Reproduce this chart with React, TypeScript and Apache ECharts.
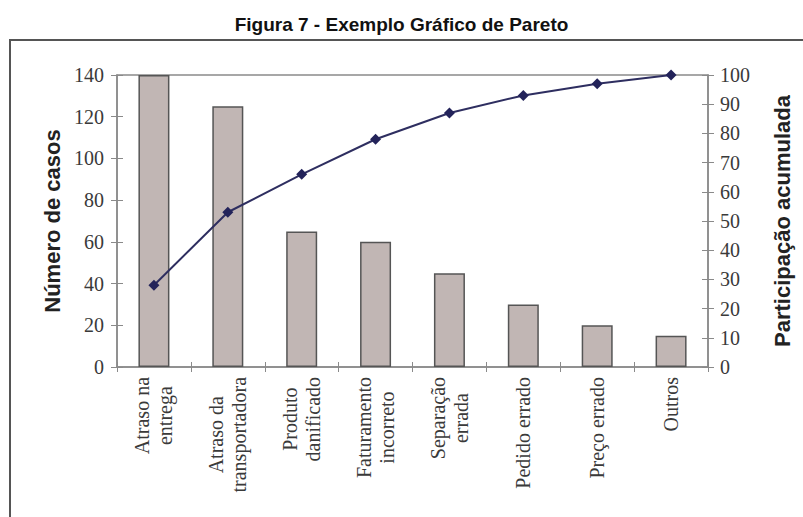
import React, { useEffect, useRef } from "react";
import * as echarts from "echarts";

const categories = [
  "Atraso na\nentrega",
  "Atraso da\ntransportadora",
  "Produto\ndanificado",
  "Faturamento\nincorreto",
  "Separação\nerrada",
  "Pedido errado",
  "Preço errado",
  "Outros",
];
const casos = [140, 125, 65, 60, 45, 30, 20, 15];
const acumulada = [28, 53, 66, 78, 87, 93, 97, 100];

const SERIF = "'Liberation Serif', 'Times New Roman', serif";
const SANS = "'Liberation Sans', Arial, sans-serif";
const AXIS_GREY = "#8a8a8a";

export default function App() {
  const ref = useRef<HTMLDivElement>(null);
  useEffect(() => {
    if (!ref.current) return;
    const chart = echarts.init(ref.current, undefined, { renderer: "svg" });
    const tickLabel = { fontFamily: SERIF, fontSize: 20, color: "#3a3a3a" };
    chart.setOption({
      animation: false,
      backgroundColor: "#ffffff",
      title: {
        text: "Figura 7 - Exemplo Gráfico de Pareto",
        left: "center",
        top: 10,
        textStyle: { fontFamily: SANS, fontSize: 19, fontWeight: "bold", color: "#111" },
      },
      graphic: [
        {
          type: "polyline",
          shape: { points: [[10, 520], [10, 40], [810, 40]] },
          style: { stroke: "#555", lineWidth: 2, fill: "none" },
          silent: true,
        },
      ],
      grid: {
        left: 117,
        right: 95,
        top: 75,
        bottom: 150,
        show: true,
        borderColor: AXIS_GREY,
        borderWidth: 1.5,
        backgroundColor: "transparent",
      },
      xAxis: [
        {
          type: "category",
          data: categories,
          boundaryGap: true,
          axisLine: { lineStyle: { color: AXIS_GREY, width: 1.5 } },
          axisTick: { show: true, length: 5, interval: 0, lineStyle: { color: AXIS_GREY } },
          axisLabel: {
            interval: 0,
            rotate: 90,
            margin: 10,
            formatter: (v: string) => v.split("\n").map((s) => `{c|${s}}`).join("\n"),
            rich: {
              c: { fontFamily: SERIF, fontSize: 20, lineHeight: 23, color: "#3a3a3a", align: "center" },
            },
          },
        },
        {
          type: "category",
          data: categories,
          position: "bottom",
          axisLine: { show: false },
          axisTick: { show: true, inside: true, length: 5, interval: 0, lineStyle: { color: AXIS_GREY } },
          axisLabel: { show: false },
        },
      ],
      yAxis: [
        {
          type: "value",
          min: 0,
          max: 140,
          interval: 20,
          position: "left",
          name: "Número de casos",
          nameLocation: "middle",
          nameGap: 45,
          nameTextStyle: { fontFamily: SANS, fontSize: 22, fontWeight: "bold", color: "#222" },
          axisLine: { show: true, lineStyle: { color: AXIS_GREY, width: 1.5 } },
          axisTick: { show: true, length: 6, lineStyle: { color: AXIS_GREY } },
          axisLabel: { ...tickLabel, margin: 13 },
          splitLine: { show: false },
        },
        {
          type: "value",
          min: 0,
          max: 100,
          interval: 10,
          position: "right",
          name: "Participação acumulada",
          nameLocation: "middle",
          nameGap: 63,
          nameTextStyle: { fontFamily: SANS, fontSize: 22, fontWeight: "bold", color: "#222" },
          axisLine: { show: true, lineStyle: { color: AXIS_GREY, width: 1.5 } },
          axisTick: { show: true, length: 6, lineStyle: { color: AXIS_GREY } },
          axisLabel: { ...tickLabel, margin: 12 },
          splitLine: { show: false },
        },
        {
          type: "value",
          min: 0,
          max: 140,
          interval: 20,
          position: "left",
          axisLine: { show: false },
          axisTick: { show: true, inside: true, length: 6, lineStyle: { color: AXIS_GREY } },
          axisLabel: { show: false },
          splitLine: { show: false },
        },
        {
          type: "value",
          min: 0,
          max: 100,
          interval: 10,
          position: "right",
          axisLine: { show: false },
          axisTick: { show: true, inside: true, length: 6, lineStyle: { color: AXIS_GREY } },
          axisLabel: { show: false },
          splitLine: { show: false },
        },
      ],
      series: [
        {
          type: "bar",
          data: casos,
          xAxisIndex: 0,
          yAxisIndex: 0,
          barWidth: 31,
          itemStyle: { color: "#c1b6b4", borderColor: "#555555", borderWidth: 1.5 },
        },
        {
          type: "line",
          data: acumulada,
          xAxisIndex: 0,
          yAxisIndex: 1,
          symbol: "diamond",
          symbolSize: 11,
          lineStyle: { color: "#2e2e60", width: 2 },
          itemStyle: { color: "#23235a" },
        },
      ],
    });
    return () => chart.dispose();
  }, []);
  return (
    <div
      ref={ref}
      style={{ position: "fixed", left: 0, top: 0, width: 803, height: 517, background: "#fff" }}
    />
  );
}
